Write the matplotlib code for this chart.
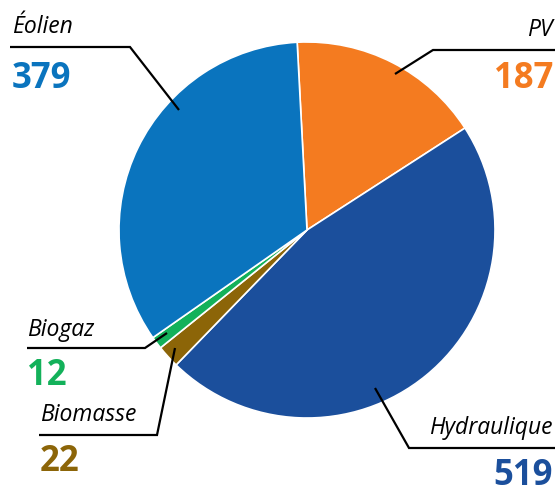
import matplotlib
matplotlib.use("Agg")
import matplotlib.pyplot as plt

# data
labels = ["PV", "Hydraulique", "Biomasse", "Biogaz", "Éolien"]
values = [187, 519, 22, 12, 379]
colors = ["#F47B20", "#1B4F9C", "#8C6508", "#13B15A", "#0A74BE"]

W, H = 558, 488
fig = plt.figure(figsize=(W / 100, H / 100), dpi=100)
ax = fig.add_axes([0, 0, 1, 1])
ax.set_xlim(0, W)
ax.set_ylim(0, H)
ax.set_aspect("equal")
ax.axis("off")

ax.pie(values, colors=colors, startangle=93, counterclock=False,
       center=(307, H - 230), radius=188,
       wedgeprops=dict(edgecolor="white", linewidth=1.2))
ax.set_xlim(0, W)
ax.set_ylim(0, H)

# label layout (pixel coords, y from top)
# name x, name baseline, ha, number baseline, leader line points
layout = {
    "Éolien":      (12, 33, "left", 88, [(10, 47), (130, 47), (179, 110)]),
    "PV":          (553, 36, "right", 88, [(555, 50), (433, 50), (395, 74)]),
    "Biogaz":      (27, 336, "left", 385, [(27, 348), (145, 348), (167, 333)]),
    "Biomasse":    (40, 421, "left", 471, [(39, 435), (157, 435), (175, 348)]),
    "Hydraulique": (553, 434, "right", 485, [(555, 448), (409, 448), (375, 388)]),
}

for name, val, col in zip(labels, values, colors):
    x, yb, ha, yn, pts = layout[name]
    ax.text(x, H - yb, name, ha=ha, va="baseline", fontsize=16.5,
            style="italic", family="Open Sans", color="black")
    ax.text(x, H - yn, str(val), ha=ha, va="baseline", fontsize=25,
            fontweight="bold", family="Open Sans", color=col)
    ax.plot([p[0] for p in pts], [H - p[1] for p in pts], color="black",
            lw=1.6, solid_joinstyle="miter", solid_capstyle="butt")

fig.savefig("out.png", dpi=100)
